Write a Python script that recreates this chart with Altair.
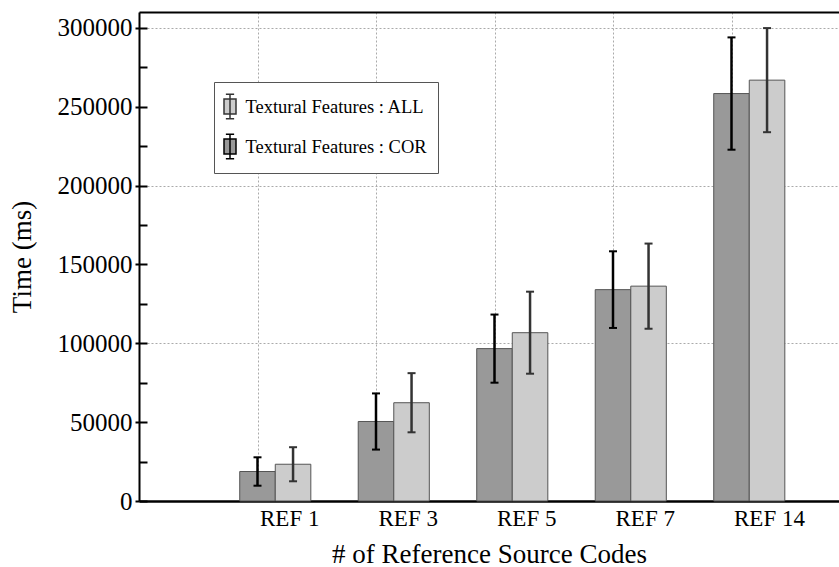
import altair as alt
import pandas as pd

# ---- data ----
categories = ["REF 1", "REF 3", "REF 5", "REF 7", "REF 14"]
series_cor = "Textural Features : COR"
series_all = "Textural Features : ALL"
cor_mean = [18700, 50400, 96600, 134000, 258300]
cor_err = [9000, 17800, 21600, 24300, 35600]
all_mean = [23300, 62300, 106700, 136200, 266800]
all_err = [10800, 18750, 26000, 27000, 33000]
y_labels = list(range(0, 300001, 50000))
y_minor = list(range(0, 310001, 25000))

rows = []
for i, c in enumerate(categories):
    rows.append(dict(category=c, slot=i + 1, series=series_cor, mean=cor_mean[i], err=cor_err[i]))
    rows.append(dict(category=c, slot=i + 1, series=series_all, mean=all_mean[i], err=all_err[i]))
df = pd.DataFrame(rows)

FONT = "Liberation Serif"
label_expr = "[" + ",".join("'%s'" % c for c in categories) + "][datum.value - 1]"

base = (
    alt.Chart(df)
    .transform_calculate(center="datum.slot + (datum.series === '%s' ? 0.3 : 0)" % series_all)
    .transform_calculate(left="datum.center - 0.15")
    .transform_calculate(right="datum.center + 0.15")
    .transform_calculate(lo="datum.mean - datum.err")
    .transform_calculate(hi="datum.mean + datum.err")
    .transform_calculate(zero="0")
)

xscale = alt.Scale(domain=[0, 700 / 118.5], nice=False, zero=False)
yscale = alt.Scale(domain=[0, 310000], nice=False)

legend_symbol = "M-0.48,-0.6H0.48V0.6H-0.48Z M0,-0.98V0.98 M-0.33,-0.98H0.33 M-0.33,0.98H0.33"

bars = base.mark_bar(stroke="#555555", strokeWidth=1).encode(
    x=alt.X(
        "left:Q",
        scale=xscale,
        axis=alt.Axis(
            values=[1, 2, 3, 4, 5],
            labelExpr=label_expr,
            labelAlign="left",
            labelBaseline="top",
            labelPadding=6,
            labelOffset=2,
            labelFont=FONT,
            labelFontSize=23,
            labelColor="black",
            labelFlush=False,
            labelOverlap=False,
            ticks=False,
            tickSize=0,
            domain=True,
            domainColor="black",
            domainWidth=2.5,
            grid=True,
            gridColor="#aaaaaa",
            gridDash=[2, 2],
            gridWidth=1,
            title="# of Reference Source Codes",
            titleFont=FONT,
            titleFontSize=27,
            titleFontWeight="normal",
            titleColor="black",
            titleX=350,
            titleY=61,
            titleBaseline="alphabetic",
            titleAlign="center",
        ),
    ),
    x2="right:Q",
    y=alt.Y(
        "mean:Q",
        scale=yscale,
        stack=None,
        axis=alt.Axis(
            values=y_labels,
            format="d",
            tickSize=4,
            tickWidth=2,
            tickColor="black",
            labelPadding=3,
            labelFont=FONT,
            labelFontSize=25,
            labelColor="black",
            domain=True,
            domainColor="black",
            domainWidth=2,
            grid=True,
            gridColor="#aaaaaa",
            gridDash=[2, 2],
            gridWidth=1,
            gridOpacity={"condition": {"test": "datum.value % 100000 === 0", "value": 1}, "value": 0},
            title="Time (ms)",
            titleFont=FONT,
            titleFontSize=27,
            titleFontWeight="normal",
            titleColor="black",
            titleX=-109,
            titleY=244.5,
            titleBaseline="alphabetic",
            titleAlign="center",
        ),
    ),
    y2="zero:Q",
    fill=alt.Fill(
        "series:N",
        scale=alt.Scale(domain=[series_all, series_cor], range=["#cccccc", "#999999"]),
        legend=alt.Legend(
            title=None,
            orient="none",
            legendX=75,
            legendY=70,
            direction="vertical",
            fillColor="white",
            strokeColor="#555555",
            padding=11,
            rowPadding=9,
            symbolType=legend_symbol,
            symbolSize=625,
            symbolStrokeColor="#222222",
            symbolStrokeWidth=1.5,
            symbolOffset=-8.5,
            labelOffset=2,
            labelFont=FONT,
            labelFontSize=18.5,
            labelColor="black",
            labelLimit=0,
        ),
    ),
)

err_color = alt.Scale(domain=[series_all, series_cor], range=["#333333", "#000000"])

rules = base.mark_rule(strokeWidth=2.5).encode(
    x=alt.X(
        "center:Q",
        scale=xscale,
        axis=alt.Axis(
            orient="top",
            domain=True,
            domainColor="black",
            domainWidth=2,
            ticks=False,
            labels=False,
            grid=False,
            title=None,
        ),
    ),
    y=alt.Y(
        "lo:Q",
        scale=yscale,
        axis=alt.Axis(
            orient="left",
            offset=-8,
            values=y_minor,
            tickSize=8,
            tickWidth=2,
            tickColor="black",
            domain=False,
            labels=False,
            grid=False,
            title=None,
        ),
    ),
    y2="hi:Q",
    color=alt.Color("series:N", scale=err_color, legend=None),
)

caps = (
    base.transform_fold(["lo", "hi"], as_=["end", "val"])
    .mark_tick(orient="horizontal", size=8, thickness=2, opacity=1)
    .encode(
        x=alt.X("center:Q", scale=xscale, axis=None),
        y=alt.Y("val:Q", scale=yscale, axis=None),
        color=alt.Color("series:N", scale=err_color, legend=None),
    )
)

chart = (
    alt.layer(bars, rules, caps)
    .resolve_axis(x="independent", y="independent")
    .properties(
        width=700,
        height=489,
        padding={"left": 139, "top": 12, "right": 0, "bottom": 66},
        autosize=alt.AutoSizeParams(type="none"),
    )
    .configure_view(stroke=None)
    .configure(font=FONT)
)

chart.save("out.html", embed_options={"renderer": "svg", "actions": False})
